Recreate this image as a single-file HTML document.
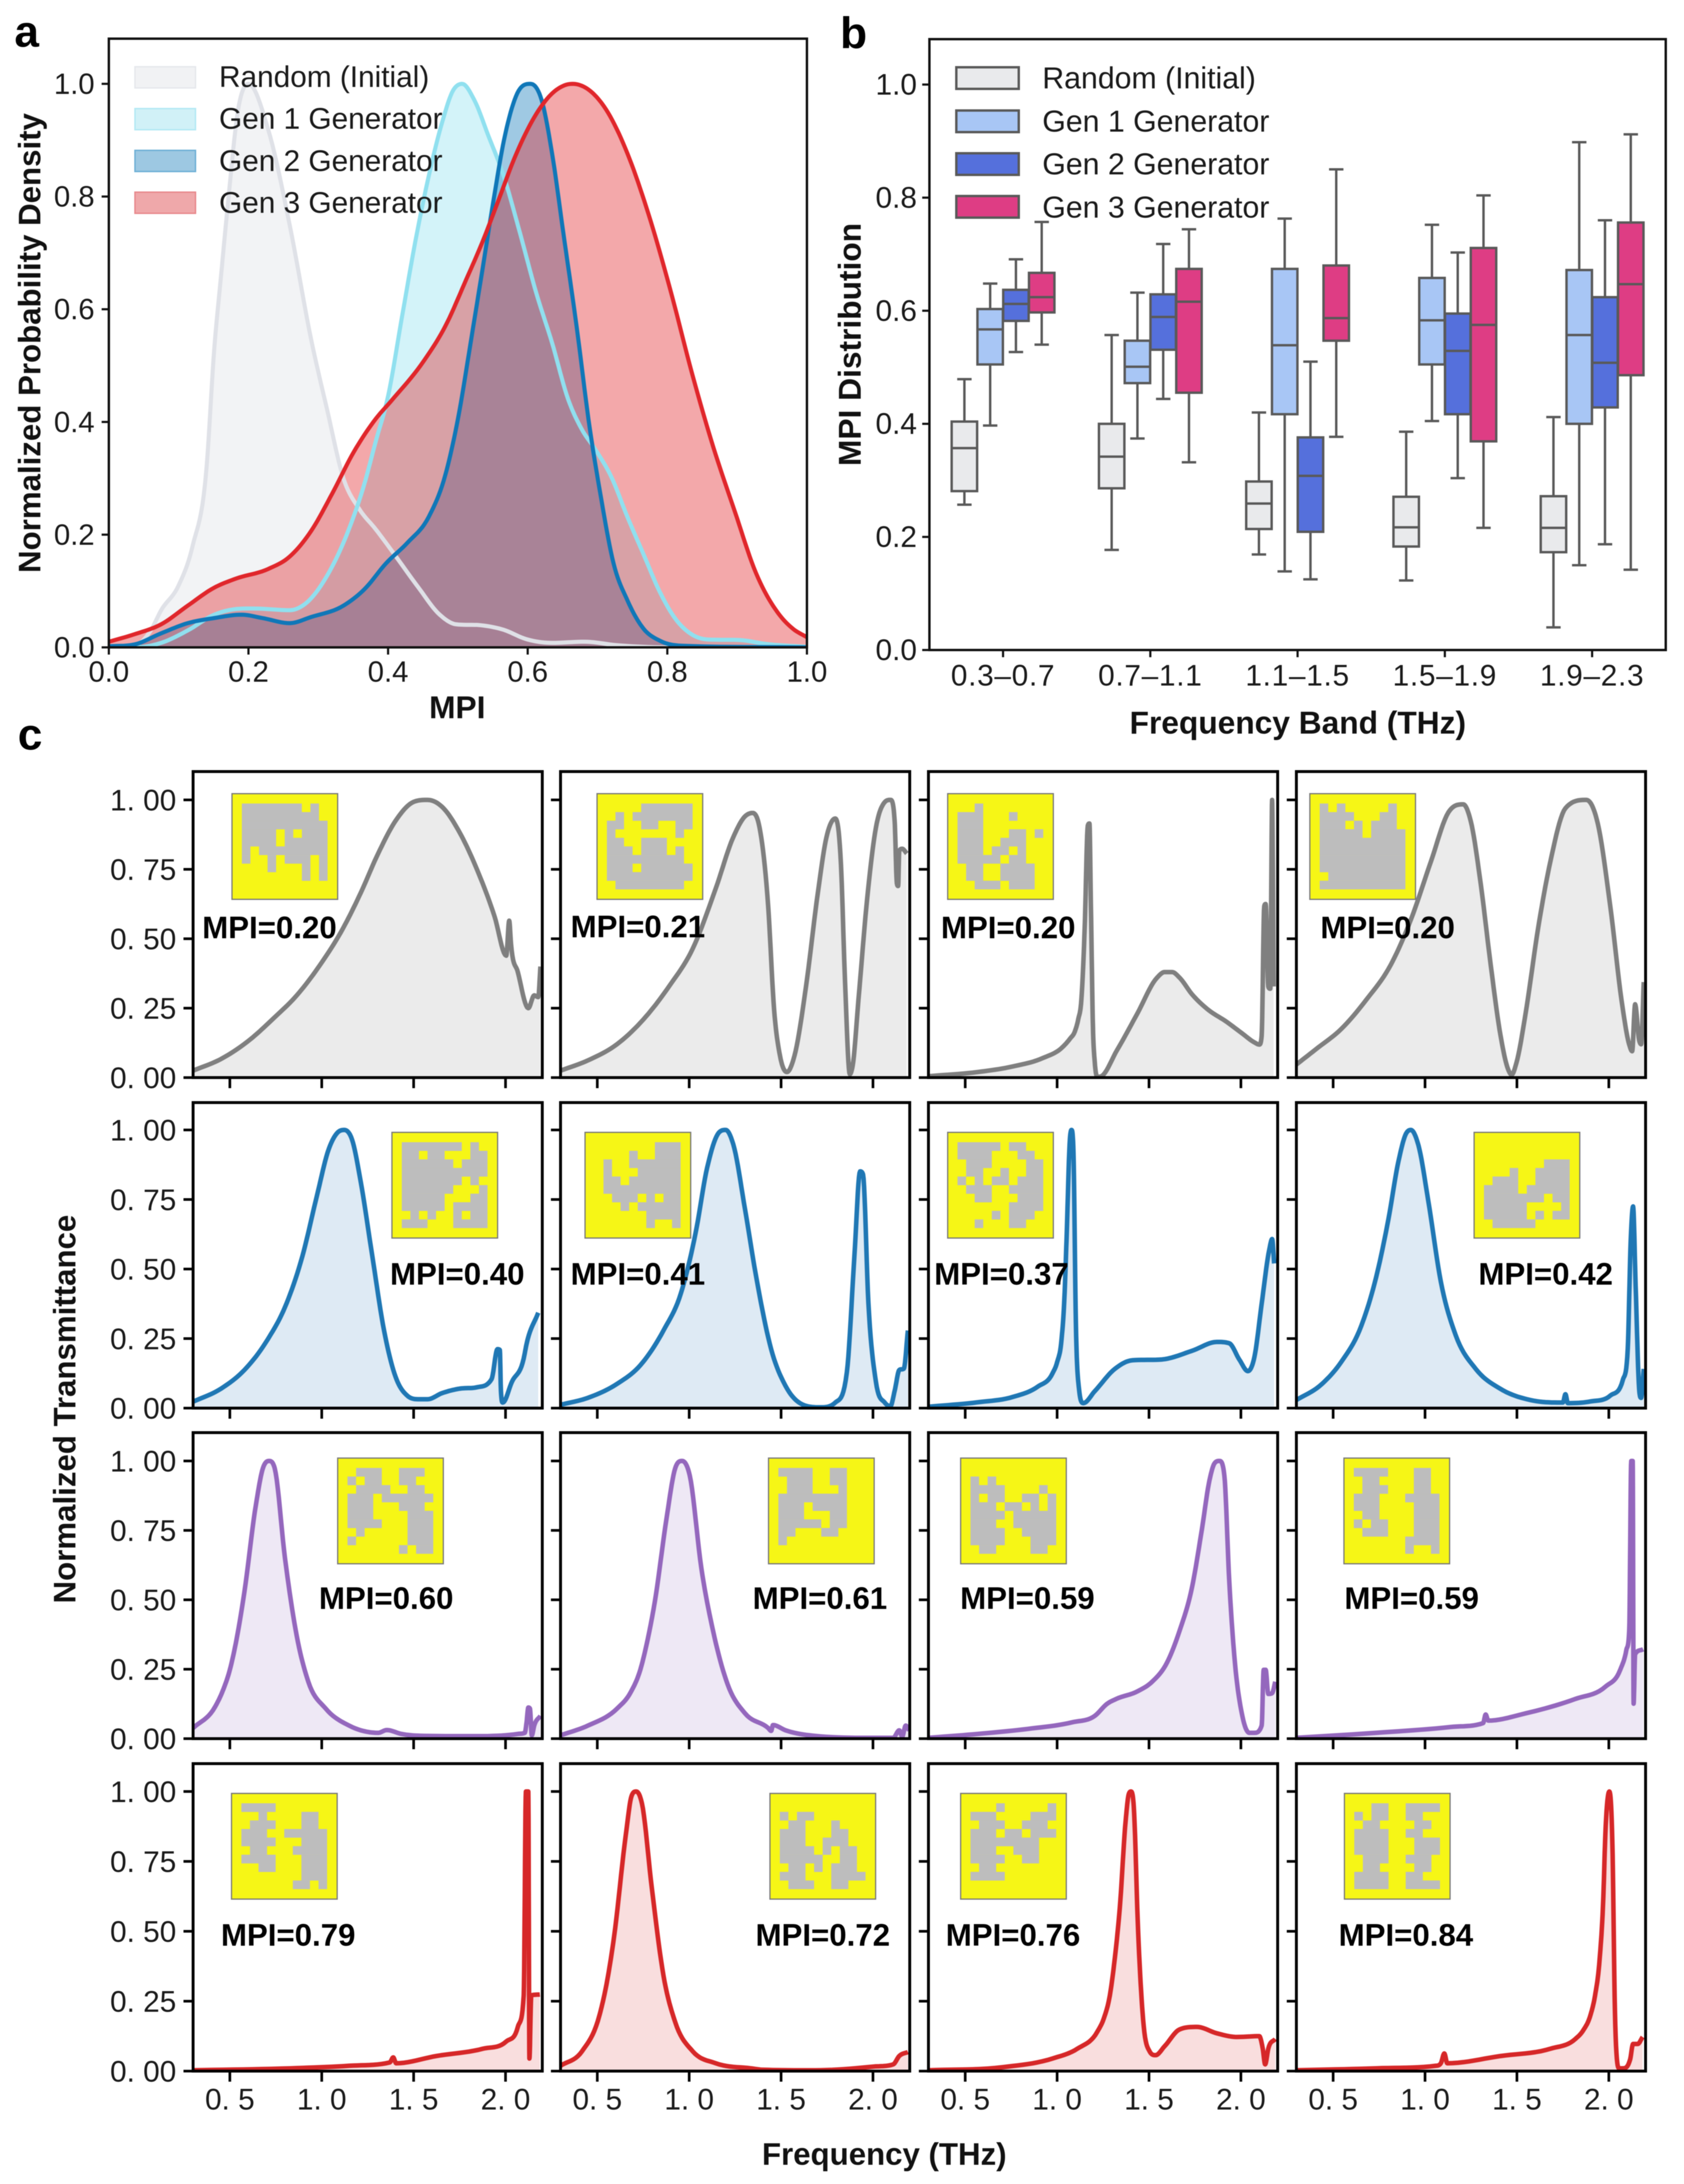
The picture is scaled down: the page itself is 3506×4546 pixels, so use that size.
<!DOCTYPE html>
<html lang="en">
<head>
<meta charset="utf-8">
<title>MPI distributions and transmittance spectra</title>
<style>
html,body{margin:0;padding:0;background:#fff;}
svg{display:block;font-family:"Liberation Sans",Arial,sans-serif;filter:blur(0.9px);}
</style>
</head>
<body>
<svg id="figure" xmlns="http://www.w3.org/2000/svg" width="3506" height="4546" viewBox="0 0 3506 4546">
<rect x="0" y="0" width="3506" height="4546" fill="#ffffff"/>
<defs id="defs"></defs>
<g id="panelA"></g>
<g id="panelB"></g>
<g id="panelC"></g>

<g font-size="62" fill="#1a1a1a">
<rect x="281" y="139" width="126" height="44" fill="#f1f2f4" stroke="#e6e8ec" stroke-width="3"/>
<rect x="281" y="226" width="126" height="44" fill="#d1f1f7" stroke="#b4e9f4" stroke-width="3"/>
<rect x="281" y="313" width="126" height="44" fill="#9dc8e2" stroke="#6fb0d6" stroke-width="3"/>
<rect x="281" y="400" width="126" height="44" fill="#efa8aa" stroke="#e88a8d" stroke-width="3"/>
<text x="456" y="181">Random (Initial)</text>
<text x="456" y="268">Gen 1 Generator</text>
<text x="456" y="356">Gen 2 Generator</text>
<text x="456" y="443">Gen 3 Generator</text>
</g>

<g font-size="63" fill="#1a1a1a">
<rect x="1991" y="140" width="130" height="45" fill="#e9eaec" stroke="#595959" stroke-width="5"/>
<rect x="1991" y="230" width="130" height="45" fill="#a8c6f5" stroke="#595959" stroke-width="5"/>
<rect x="1991" y="319" width="130" height="45" fill="#5570dc" stroke="#595959" stroke-width="5"/>
<rect x="1991" y="408" width="130" height="45" fill="#de3d84" stroke="#595959" stroke-width="5"/>
<text x="2170" y="184">Random (Initial)</text>
<text x="2170" y="274">Gen 1 Generator</text>
<text x="2170" y="363">Gen 2 Generator</text>
<text x="2170" y="453">Gen 3 Generator</text>
</g>

<g font-size="92" font-weight="700" fill="#000">
<text x="30" y="97">a</text>
<text x="1749" y="100">b</text>
<text x="37" y="1560">c</text>
</g>

<g font-weight="700" fill="#111" text-anchor="middle" font-size="66">
<text x="952" y="1495">MPI</text>
<text font-size="65" transform="translate(84 714) rotate(-90)">Normalized Probability Density</text>
<text x="2702" y="1527">Frequency Band (THz)</text>
<text transform="translate(1792 717) rotate(-90)">MPI Distribution</text>
<text font-size="65" x="1841" y="4506">Frequency (THz)</text>
<text font-size="65" transform="translate(157 2933) rotate(-90)">Normalized Transmittance</text>
</g>
</svg>

<script>
/* ---------- Panel a data: KDE curves ---------- */
const mpiRandom = [0,.04,.06,.075,.1,.12,.14,.151,.16,.17,.186,.2,.228,.259,.29,.313,.336,.359,.382,.412,.443,.474,.497,.535,.566,.597,.635,.681,.727,.804,1];
const densRandom = [0,.005,.03,.066,.11,.18,.32,.53,.65,.78,.96,1,.92,.75,.545,.42,.30,.245,.21,.16,.107,.058,.041,.039,.031,.015,.008,.01,.004,0,0];
const mpiGen1 = [0,.036,.075,.113,.151,.182,.205,.259,.282,.313,.343,.366,.382,.40,.42,.439,.458,.478,.493,.506,.524,.543,.566,.589,.612,.635,.658,.677,.697,.72,.743,.766,.789,.812,.835,.858,.904,.942,1];
const densGen1 = [0,0,.008,.03,.058,.068,.069,.066,.078,.128,.207,.29,.364,.446,.587,.72,.835,.934,.988,1,.97,.91,.835,.735,.63,.54,.44,.388,.351,.302,.231,.165,.099,.05,.023,.014,.013,.006,.001];
const mpiGen2 = [0,.036,.075,.113,.151,.19,.22,.259,.29,.336,.366,.397,.428,.458,.482,.50,.52,.535,.551,.566,.585,.604,.62,.635,.651,.67,.689,.704,.723,.743,.766,.789,.82,1];
const densGen2 = [.002,.005,.025,.043,.052,.058,.052,.043,.054,.074,.103,.149,.186,.231,.306,.405,.554,.669,.793,.90,.983,1,.971,.876,.736,.57,.388,.273,.149,.083,.033,.012,.003,0];
const mpiGen3 = [0,.036,.075,.113,.151,.182,.228,.259,.29,.32,.351,.382,.405,.451,.482,.512,.535,.558,.581,.612,.635,.664,.689,.712,.743,.773,.804,.835,.866,.897,.927,.958,.98,1];
const densGen3 = [.01,.023,.041,.074,.106,.122,.139,.161,.207,.273,.347,.405,.438,.508,.57,.653,.719,.793,.868,.946,.983,1,.988,.955,.876,.769,.636,.488,.355,.24,.132,.062,.033,.018];
const aTickValues = [0,.2,.4,.6,.8,1];
const aTickLabels = ['0.0','0.2','0.4','0.6','0.8','1.0'];

/* ---------- Panel b data: [whisker low, q1, median, q3, whisker high] ---------- */
const bandLabels = ['0.3–0.7','0.7–1.1','1.1–1.5','1.5–1.9','1.9–2.3'];
const boxRandom = [[.257,.281,.357,.404,.479],[.177,.286,.342,.40,.557],[.169,.214,.259,.298,.42],[.123,.183,.217,.271,.386],[.04,.173,.216,.272,.412]];
const boxGen1 = [[.397,.505,.567,.603,.648],[.374,.472,.501,.547,.632],[.139,.417,.539,.674,.763],[.405,.505,.583,.658,.752],[.15,.40,.557,.672,.898]];
const boxGen2 = [[.527,.582,.612,.637,.691],[.444,.531,.589,.629,.718],[.125,.209,.308,.376,.51],[.304,.417,.529,.595,.703],[.187,.429,.508,.624,.76]];
const boxGen3 = [[.54,.597,.624,.667,.757],[.332,.455,.616,.674,.744],[.377,.547,.587,.68,.85],[.216,.369,.575,.711,.804],[.142,.486,.647,.756,.912]];
const bTickValues = [0,.2,.4,.6,.8,1];
const bTickLabels = ['0.0','0.2','0.4','0.6','0.8','1.0'];

/* ---------- Panel c data: spectra ---------- */
const f11 = [.3,.452,.61,.737,.864,.99,1.117,1.212,1.307,1.402,1.497,1.576,1.655,1.75,1.845,1.94,2.004,2.02,2.03,2.067,2.124,2.156,2.178,2.19];
const t11 = [.025,.067,.137,.213,.296,.405,.539,.665,.807,.925,.992,1,.975,.883,.749,.581,.439,.565,.48,.38,.25,.296,.29,.40];
const f12 = [.3,.449,.607,.765,.892,1.019,1.145,1.24,1.304,1.345,1.383,1.43,1.462,1.494,1.532,1.573,1.636,1.70,1.747,1.795,1.826,1.848,1.874,1.89,1.921,1.969,2.016,2.064,2.095,2.118,2.13,2.137,2.143,2.159,2.184];
const t12 = [.025,.062,.12,.22,.33,.464,.682,.866,.941,.953,.90,.615,.246,.079,.02,.079,.33,.665,.866,.933,.765,.347,.012,.045,.28,.648,.90,.992,1,.925,.70,.69,.816,.824,.807];
const f13 = [.3,.568,.758,.921,1.03,1.07,1.097,1.115,1.132,1.15,1.167,1.176,1.184,1.195,1.205,1.219,1.232,1.327,1.436,1.544,1.585,1.626,1.666,1.734,1.815,1.924,2.005,2.073,2.1,2.113,2.127,2.135,2.149,2.16,2.17,2.178];
const t13 = [.005,.02,.04,.07,.11,.14,.167,.21,.28,.537,.907,.915,.617,.183,.055,.003,.003,.10,.23,.36,.38,.38,.36,.30,.248,.20,.16,.127,.119,.15,.617,.625,.328,.32,1,.328];
const f14 = [.3,.408,.544,.68,.815,.923,1.032,1.127,1.208,1.249,1.303,1.357,1.411,1.452,1.471,1.498,1.547,1.615,1.682,1.764,1.878,1.94,2.008,2.076,2.111,2.127,2.143,2.165,2.176,2.19];
const t14 = [.047,.103,.175,.28,.408,.569,.778,.955,.984,.923,.698,.408,.151,.03,.01,.055,.23,.537,.778,.97,1,.915,.617,.247,.119,.095,.264,.135,.12,.344];
const f21 = [.3,.452,.579,.705,.8,.895,.974,1.038,1.085,1.123,1.165,1.212,1.275,1.339,1.402,1.465,1.529,1.576,1.655,1.75,1.845,1.924,1.956,1.969,1.975,1.985,2.035,2.099,2.114,2.178];
const t21 = [.023,.07,.137,.246,.363,.547,.764,.931,.99,1,.965,.814,.547,.279,.112,.045,.032,.032,.054,.07,.075,.104,.212,.209,.062,.02,.095,.179,.229,.343];
const f22 = [.3,.449,.607,.734,.86,.955,1.035,1.098,1.161,1.199,1.24,1.304,1.367,1.446,1.525,1.62,1.715,1.795,1.858,1.899,1.93,1.946,1.975,2.016,2.064,2.095,2.118,2.143,2.168,2.19];
const t22 = [.012,.037,.087,.154,.279,.413,.63,.865,.99,1,.948,.714,.463,.212,.079,.012,.003,.02,.129,.547,.851,.84,.38,.095,.02,.007,.062,.137,.142,.279];
const f23 = [.3,.568,.758,.894,.975,1.0,1.024,1.04,1.051,1.07,1.078,1.089,1.102,1.119,1.143,1.205,1.314,1.409,1.571,1.734,1.87,1.937,1.992,2.038,2.073,2.113,2.154,2.17,2.181];
const t23 = [.005,.021,.04,.077,.125,.165,.246,.4,.6,.97,1,.92,.31,.07,.018,.061,.141,.172,.175,.206,.238,.233,.174,.133,.182,.375,.568,.608,.52];
const f24 = [.3,.436,.544,.652,.734,.801,.856,.896,.923,.964,1.018,1.086,1.167,1.276,1.411,1.574,1.737,1.75,1.764,1.777,1.9,2.008,2.076,2.103,2.119,2.132,2.146,2.165,2.176,2.19];
const t24 = [.029,.085,.166,.294,.471,.68,.889,.986,1,.945,.744,.455,.262,.141,.069,.029,.02,.02,.05,.018,.024,.045,.101,.214,.6,.725,.44,.069,.037,.141];
const f31 = [.3,.42,.46,.5,.54,.579,.642,.68,.712,.744,.8,.864,.927,1.022,1.149,1.307,1.354,1.434,1.56,1.845,2.067,2.105,2.114,2.124,2.133,2.143,2.156,2.19];
const t31 = [.038,.115,.17,.248,.37,.528,.843,.974,1,.974,.65,.37,.205,.108,.047,.021,.031,.017,.01,.009,.017,.021,.056,.112,.108,.012,.047,.082];
const f32 = [.3,.449,.607,.68,.734,.775,.813,.876,.924,.962,1.003,1.066,1.13,1.209,1.304,1.43,1.446,1.456,1.525,1.684,2.0,2.11,2.143,2.159,2.178,2.197];
const t32 = [.012,.047,.108,.165,.248,.36,.493,.79,.974,1,.948,.615,.388,.196,.091,.038,.028,.049,.03,.01,.003,.003,.03,.007,.047,.03];
const f33 = [.3,.568,.839,1.083,1.205,1.273,1.322,1.436,1.517,1.598,1.666,1.734,1.788,1.829,1.856,1.883,1.91,1.937,1.964,2.005,2.046,2.073,2.113,2.124,2.135,2.149,2.17,2.187];
const t33 = [.003,.017,.035,.059,.082,.126,.143,.17,.205,.274,.388,.545,.755,.93,.991,1,.948,.563,.30,.091,.021,.021,.047,.248,.248,.161,.164,.205];
const f34 = [.3,.734,1.14,1.316,1.33,1.344,1.547,1.818,1.981,2.062,2.095,2.111,2.122,2.13,2.135,2.143,2.187];
const t34 = [.003,.021,.042,.056,.087,.065,.091,.143,.187,.248,.318,.388,1,1,.126,.304,.322];
const f41 = [.3,.832,1.149,1.37,1.389,1.405,1.624,1.877,2.004,2.067,2.099,2.111,2.124,2.13,2.14,2.187];
const t41 = [.003,.01,.019,.031,.049,.028,.054,.08,.106,.158,.271,1,1,.045,.271,.274];
const f42 = [.3,.417,.512,.55,.591,.655,.686,.712,.743,.797,.86,.924,1.019,1.145,1.335,1.399,1.684,2.0,2.11,2.143,2.19];
const t42 = [.019,.071,.2,.31,.479,.844,.983,1,.957,.653,.342,.175,.071,.028,.01,.005,.003,.016,.024,.054,.068];
const f43 = [.3,.704,.975,1.11,1.219,1.255,1.287,1.315,1.341,1.373,1.39,1.403,1.417,1.441,1.468,1.503,1.536,1.585,1.666,1.761,1.87,1.978,2.1,2.119,2.132,2.149,2.187];
const t43 = [.003,.014,.045,.08,.141,.19,.271,.41,.583,.896,.991,1,.948,.497,.184,.071,.057,.089,.149,.158,.135,.122,.125,.08,.024,.08,.115];
const f44 = [.3,.734,1.059,1.086,1.105,1.121,1.411,1.682,1.818,1.86,1.9,1.925,1.95,1.97,1.981,2.003,2.019,2.035,2.057,2.076,2.116,2.132,2.157,2.184];
const t44 = [.003,.01,.019,.028,.063,.028,.054,.08,.115,.145,.20,.27,.4,.62,.844,1,.826,.167,.01,.01,.042,.097,.097,.122];

const spectraFreq = [[f11,f12,f13,f14],[f21,f22,f23,f24],[f31,f32,f33,f34],[f41,f42,f43,f44]];
const spectraTrans = [[t11,t12,t13,t14],[t21,t22,t23,t24],[t31,t32,t33,t34],[t41,t42,t43,t44]];
const mpiLabels = [['MPI=0.20','MPI=0.21','MPI=0.20','MPI=0.20'],['MPI=0.40','MPI=0.41','MPI=0.37','MPI=0.42'],['MPI=0.60','MPI=0.61','MPI=0.59','MPI=0.59'],['MPI=0.79','MPI=0.72','MPI=0.76','MPI=0.84']];
const cXTickValues = [.5,1,1.5,2];
const cXTickLabels = ['0. 5','1. 0','1. 5','2. 0'];
const cYTickValues = [0,.25,.5,.75,1];
const cYTickLabels = ['0. 00','0. 25','0. 50','0. 75','1. 00'];

/* Metasurface unit-cell patterns: '#' = gray, '.' = yellow */
const cells = [[
["#######.#.","#########.","##########","####.#.###","####.#####","#.########","#..#.###.#","...#...#.#",".......#.#",".........."],
["....######",".#.#######","##..##..##","#.......#.","##..###...","###.###.#.","#########.","###.######","##########",".########."],
["..#.......","###...#...","###.......","###...##.#","###..###..","###.##.#..","#####.##..",".##..####.",".##..####.","..###.###."],
["#.#.....#.","####...##.","###.#.###.","#####.####","##########","##########","##########","##########",".#########","##########"]
],[
["#######.#.","##.##...##","######.###","##########","#######.#.","######...#","#####...##","#####.####",".#.#..#.##","###...####"],
[".......###","....#..###",".#..######",".#...#####",".##.######",".#########","..###.#.##","...#.#####","......####","......#..#"],
["#####.##..","####...##.",".###....##",".##..#..##","#.#.##.###",".###..####","..##...###","......####","....#.###.","..#...##.."],
["..........","..........",".......###","...#..####",".###..####","####.#####","#######.##","#####....#","#####.#.##",".#####...."]
],[
[".###..###.","#.##..##..",".####..##.","###.######","###...###.","###....###","####...###",".#.....###","#......###","......#.##"],
["####..##..",".###..##..",".###...#..","########..","###.####..","###...##..","#####.##..","##...##...","#.........",".........."],
["..........","#.#.......","####....#.","#.##..##.#","###.##.#.#","####.#####","###..#####","####..####","####...###",".##....##."],
["####...##.",".##....##.",".###...##.","###...####","###....###",".##....###","#.##...###",".###...###","......####","......#..#"]
],[
["####......","..#....##.",".###...##.","###..#####","####...###",".##...####","####...###","..##...###",".......###","......##.#"],
["..........","#.##......",".##...#...","###...##..","###..###..","####.#.##.","#####..##.",".##.#.###.","###...####",".###..##.."],
["...#.....#","###....###",".###..###.","###.##.###","########..","###..###..","####..##..",".##.......","####......",".........."],
["..##..####","#.##..##..",".##....##.","####..##..","####...###","####...###",".###..###.",".##....##.","####..##..","####..####"]
]];

/* ---------- Layout (pixels, not data) ---------- */
const NS = 'http://www.w3.org/2000/svg';
const A = {l:226.6, r:1680, t:80.5, b:1347.5, one:174.5};
const B = {l:1935, r:3468, t:81.5, b:1353, one:176};
const colL = [402,1167,1933,2699];
const CW = 727;
const rowL = [{t:1606,b:2243,one:1665},{t:2295,b:2931,one:2352},{t:2982,b:3619,one:3041},{t:3671,b:4311,one:3729}];
const insetPos = [[[483,1652],[1243,1652],[1973,1652],[2727,1652]],[[816,2357],[1218,2357],[1973,2357],[3069,2357]],[[703,3035],[1600,3035],[2000,3035],[2798,3035]],[[482,3733],[1603,3733],[2000,3733],[2799,3733]]];
const labelPos = [[[421,1953],[1188,1951],[1959,1953],[2749,1953]],[[812,2674],[1188,2674],[1945,2674],[3078,2674]],[[664,3349],[1567,3349],[1999,3349],[2799,3349]],[[460,4050],[1573,4050],[1969,4050],[2787,4050]]];
const rowColor = ['#7f7f7f','#1f77b4','#9467bd','#d62728'];
const rowFill = ['#ebebeb','#deeaf4','#eee8f5','#f9dede'];

function el(tag, attrs, parent, text) {
  const n = document.createElementNS(NS, tag);
  for (const k in attrs) n.setAttribute(k, attrs[k]);
  if (text !== undefined) n.textContent = text;
  if (parent) parent.appendChild(n);
  return n;
}

/* cubic Hermite through the read points: weighted centred tangents, limited to avoid overshoot */
function smooth(xs, ys, sx, sy) {
  const n = xs.length, d = [], m = [];
  for (let i = 0; i < n - 1; i++) d.push((ys[i+1]-ys[i])/(xs[i+1]-xs[i]));
  m[0] = d[0]; m[n-1] = d[n-2];
  for (let i = 1; i < n - 1; i++) {
    if (d[i-1]*d[i] <= 0) m[i] = 0;
    else {
      const h0 = xs[i]-xs[i-1], h1 = xs[i+1]-xs[i];
      const c = (h1*d[i-1]+h0*d[i])/(h0+h1);
      const lim = 3*Math.min(Math.abs(d[i-1]),Math.abs(d[i]));
      m[i] = Math.sign(c)*Math.min(Math.abs(c),lim);
    }
  }
  const pts = [];
  for (let i = 0; i < n - 1; i++) {
    const h = xs[i+1]-xs[i];
    for (let s = 0; s < 10; s++) {
      const t = s/10, t2 = t*t, t3 = t2*t;
      const y = (2*t3-3*t2+1)*ys[i] + (t3-2*t2+t)*h*m[i] + (-2*t3+3*t2)*ys[i+1] + (t3-t2)*h*m[i+1];
      pts.push(sx(xs[i]+t*h).toFixed(1)+' '+sy(y).toFixed(1));
    }
  }
  pts.push(sx(xs[n-1]).toFixed(1)+' '+sy(ys[n-1]).toFixed(1));
  return 'M'+pts.join('L');
}

const defs = document.getElementById('defs');

/* ---------- Panel a ---------- */
const aX = v => A.l + v*(A.r-A.l);
const aY = v => A.b - v*(A.b-A.one);
const panelA = document.getElementById('panelA');
const clipA = el('clipPath', {id:'clipA'}, defs);
el('rect', {x:A.l, y:A.t, width:A.r-A.l, height:A.b-A.t}, clipA);
const aSeries = [
  {x:mpiRandom, y:densRandom, c:'#dfe1e7'},
  {x:mpiGen1, y:densGen1, c:'#90e0ef'},
  {x:mpiGen2, y:densGen2, c:'#0f77b8'},
  {x:mpiGen3, y:densGen3, c:'#e0262b'}
];
const aClipped = el('g', {'clip-path':'url(#clipA)'}, panelA);
aSeries.forEach(s => {
  const d = smooth(s.x, s.y, aX, aY);
  const area = el('path', {d:d+'L'+aX(s.x[s.x.length-1])+' '+aY(0)+'L'+aX(s.x[0])+' '+aY(0)+'Z', fill:s.c, 'fill-opacity':0.4, stroke:'none'}, aClipped);
  
  
});
aSeries.forEach(s => {
  const line = el('path', {d:smooth(s.x, s.y, aX, aY), fill:'none', stroke:s.c, 'stroke-width':8.5, 'stroke-linejoin':'round'}, aClipped);
  
  
});
const aSpine = el('rect', {x:A.l, y:A.t, width:A.r-A.l, height:A.b-A.t, fill:'none', stroke:'#111', 'stroke-width':5}, panelA);


aTickValues.forEach((v,i) => {
  const xt = el('line', {x1:aX(v), x2:aX(v), y1:A.b, y2:A.b+15, stroke:'#111', 'stroke-width':4.5}, panelA);
  
  
  const yt = el('line', {x1:A.l-15, x2:A.l, y1:aY(v), y2:aY(v), stroke:'#111', 'stroke-width':4.5}, panelA);
  
  
  const xl = el('text', {x:aX(v), y:1419, 'font-size':61, fill:'#1a1a1a', 'text-anchor':'middle'}, panelA, aTickLabels[i]);
  
  
  const yl = el('text', {x:197, y:aY(v)+21, 'font-size':61, fill:'#1a1a1a', 'text-anchor':'end'}, panelA, aTickLabels[i]);
  
  
});

/* ---------- Panel b ---------- */
const bBand = i => B.l + (i+0.5)*(B.r-B.l)/bandLabels.length;
const bY = v => B.b - v*(B.b-B.one);
const panelB = document.getElementById('panelB');
const bGroups = [boxRandom, boxGen1, boxGen2, boxGen3];
const bColors = ['#e9eaec','#a8c6f5','#5570dc','#de3d84'];
const hueStep = (B.r-B.l)/bandLabels.length*0.175;
bGroups.forEach((grp,j) => {
  grp.forEach((b,i) => {
    const cx = bBand(i) + (j-1.5)*hueStep, hw = 26.5, cap = 15, stroke = '#595959';
    const g = el('g', {}, panelB);
    
    
    el('line', {x1:cx, x2:cx, y1:bY(b[0]), y2:bY(b[4]), stroke:stroke, 'stroke-width':5}, g);
    el('line', {x1:cx-cap, x2:cx+cap, y1:bY(b[0]), y2:bY(b[0]), stroke:stroke, 'stroke-width':5}, g);
    el('line', {x1:cx-cap, x2:cx+cap, y1:bY(b[4]), y2:bY(b[4]), stroke:stroke, 'stroke-width':5}, g);
    el('rect', {x:cx-hw, y:bY(b[3]), width:2*hw, height:bY(b[1])-bY(b[3]), fill:bColors[j], stroke:stroke, 'stroke-width':5}, g);
    el('line', {x1:cx-hw, x2:cx+hw, y1:bY(b[2]), y2:bY(b[2]), stroke:stroke, 'stroke-width':5}, g);
  });
});
const bSpine = el('rect', {x:B.l, y:B.t, width:B.r-B.l, height:B.b-B.t, fill:'none', stroke:'#111', 'stroke-width':5}, panelB);


bandLabels.forEach((lab,i) => {
  const t = el('line', {x1:bBand(i), x2:bBand(i), y1:B.b, y2:B.b+15, stroke:'#111', 'stroke-width':4.5}, panelB);
  
  
  const l = el('text', {x:bBand(i), y:1427, 'font-size':62, 'letter-spacing':1.5, fill:'#1a1a1a', 'text-anchor':'middle'}, panelB, lab);
  
  
});
bTickValues.forEach((v,i) => {
  const t = el('line', {x1:B.l-15, x2:B.l, y1:bY(v), y2:bY(v), stroke:'#111', 'stroke-width':4.5}, panelB);
  
  
  const l = el('text', {x:1909, y:bY(v)+21, 'font-size':62, fill:'#1a1a1a', 'text-anchor':'end'}, panelB, bTickLabels[i]);
  
  
});

/* ---------- Panel c ---------- */
const panelC = document.getElementById('panelC');
rowL.forEach((R,r) => {
  colL.forEach((L,c) => {
    const sx = v => L + (v-0.3)/1.9*CW;
    const sy = v => R.b - v*(R.b-R.one);
    const g = el('g', {}, panelC);
    
    
    const clip = el('clipPath', {id:'clipC'+r+c}, defs);
    el('rect', {x:L, y:R.t, width:CW, height:R.b-R.t}, clip);
    const plot = el('g', {'clip-path':'url(#clipC'+r+c+')'}, g);
    const xs = spectraFreq[r][c], ys = spectraTrans[r][c];
    const d = smooth(xs, ys, sx, sy);
    const area = el('path', {d:d+'L'+sx(xs[xs.length-1])+' '+sy(0)+'L'+sx(xs[0])+' '+sy(0)+'Z', fill:rowFill[r], stroke:'none'}, plot);
    
    
    const line = el('path', {d:d, fill:'none', stroke:rowColor[r], 'stroke-width':9.5, 'stroke-linejoin':'round'}, plot);
    
    

    /* inset pattern */
    const [ix,iy] = insetPos[r][c];
    const inset = el('g', {}, g);
    
    
    el('rect', {x:ix, y:iy, width:220, height:220, fill:'#f6f616', stroke:'#777', 'stroke-width':2.5}, inset);
    cells[r][c].forEach((rowStr,ry) => {
      let start = -1;
      for (let cx = 0; cx <= rowStr.length; cx++) {
        if (rowStr[cx] === '#') { if (start < 0) start = cx; }
        else if (start >= 0) {
          el('rect', {x:ix+20.5+start*17.85, y:iy+20.5+ry*17.85, width:(cx-start)*17.85, height:18.1, fill:'#bdbdbd'}, inset);
          start = -1;
        }
      }
    });

    const [lx,ly] = labelPos[r][c];
    const mp = el('text', {x:lx, y:ly, 'font-size':65, 'font-weight':700, fill:'#000'}, g, mpiLabels[r][c]);
    
    

    const frame = el('rect', {x:L, y:R.t, width:CW, height:R.b-R.t, fill:'none', stroke:'#000', 'stroke-width':6}, g);
    
    

    cXTickValues.forEach((v,i) => {
      const t = el('line', {x1:sx(v), x2:sx(v), y1:R.b, y2:R.b+22, stroke:'#000', 'stroke-width':5.5}, g);
      
      
      if (r === 3) {
        const l = el('text', {x:sx(v), y:4391, 'font-size':62, fill:'#1a1a1a', 'text-anchor':'middle'}, g, cXTickLabels[i]);
        
        
      }
    });
    cYTickValues.forEach((v,i) => {
      const t = el('line', {x1:L-20, x2:L, y1:sy(v), y2:sy(v), stroke:'#000', 'stroke-width':5.5}, g);
      
      
      if (c === 0) {
        const l = el('text', {x:367, y:sy(v)+22, 'font-size':62, fill:'#1a1a1a', 'text-anchor':'end'}, g, cYTickLabels[i]);
        
        
      }
    });
  });
});
</script>
</body>
</html>
